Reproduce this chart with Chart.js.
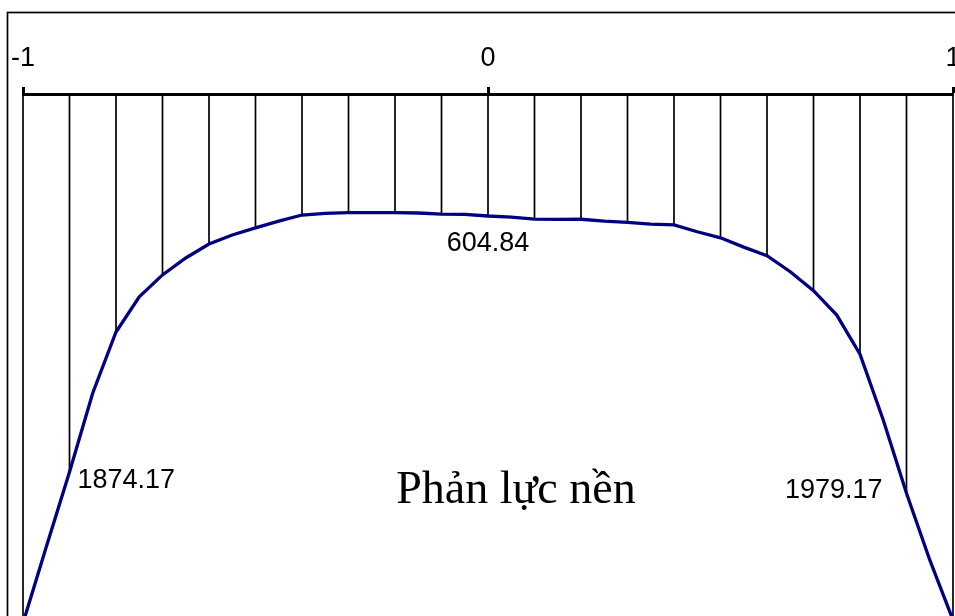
<!DOCTYPE html>
<html>
<head>
<meta charset="utf-8">
<script src="https://cdn.jsdelivr.net/npm/chart.js@4/dist/chart.umd.min.js"></script>
<style>
  html, body { margin: 0; padding: 0; background: #fff; }
  canvas { display: block; }
</style>
</head>
<body>
<canvas id="c" width="955" height="616"></canvas>
<script>
// Stations along the beam (relative coordinate, -1 .. 1)
const stations = [
  -1.00, -0.95, -0.90, -0.85, -0.80, -0.75, -0.70, -0.65, -0.60, -0.55, -0.50,
  -0.45, -0.40, -0.35, -0.30, -0.25, -0.20, -0.15, -0.10, -0.05, 0.00,
  0.05, 0.10, 0.15, 0.20, 0.25, 0.30, 0.35, 0.40, 0.45, 0.50,
  0.55, 0.60, 0.65, 0.70, 0.75, 0.80, 0.85, 0.90, 0.95, 1.00
];

// Subgrade reaction at each station
const reaction = [
  2623, 2246, 1874.17, 1482, 1180, 1006, 897, 813, 744, 699, 664,
  630, 600, 592, 588, 588, 588, 590, 596, 597, 604.84,
  610, 620, 622, 621, 630, 636, 645, 649, 683, 713,
  759, 802, 881, 975, 1096, 1290, 1616, 1979.17, 2310, 2608
];

// Axis ticks shown on the top axis
const tickValues = [-1, 0, 1];

// Stations whose values are written on the diagram
const labelledStations = [-0.9, 0, 0.9];

// Caption inside the diagram
const caption = 'Phản lực nền';

const points = stations.map((x, i) => ({ x: x, y: reaction[i] }));

// Ordinate lines every 0.1 from the axis down to the curve
const ordinatePlugin = {
  id: 'ordinates',
  beforeDatasetsDraw(chart) {
    const ctx = chart.ctx;
    const xs = chart.scales.x, ys = chart.scales.y;
    ctx.save();
    ctx.strokeStyle = '#000';
    ctx.lineWidth = 1.7;
    stations.forEach((s, i) => {
      if (i % 2 !== 0) return;
      const px = xs.getPixelForValue(s);
      ctx.beginPath();
      ctx.moveTo(px, ys.getPixelForValue(0));
      ctx.lineTo(px, ys.getPixelForValue(reaction[i]));
      ctx.stroke();
    });
    ctx.restore();
  }
};

// Frame, value labels and caption
const annotatePlugin = {
  id: 'annotate',
  afterDraw(chart) {
    const ctx = chart.ctx;
    const xs = chart.scales.x, ys = chart.scales.y;
    ctx.save();
    ctx.strokeStyle = '#000';
    ctx.lineWidth = 1.7;
    ctx.strokeRect(7.5, 12.5, 955, 700);

    ctx.fillStyle = '#000';
    ctx.font = '27px "Liberation Sans", Arial, sans-serif';
    ctx.textBaseline = 'middle';
    labelledStations.forEach((s) => {
      const i = stations.findIndex(v => Math.abs(v - s) < 1e-9);
      const val = reaction[i];
      const px = xs.getPixelForValue(s);
      const py = ys.getPixelForValue(val);
      const txt = val.toFixed(2);
      if (s < 0) {
        ctx.textAlign = 'left';
        ctx.fillText(txt, px + 8, py + 9);
      } else if (s > 0) {
        ctx.textAlign = 'right';
        ctx.fillText(txt, px - 24, py - 3);
      } else {
        ctx.textAlign = 'center';
        ctx.fillText(txt, px, py + 28);
      }
    });

    ctx.font = '46px "Liberation Serif", "Times New Roman", serif';
    ctx.textAlign = 'center';
    ctx.textBaseline = 'alphabetic';
    ctx.fillText(caption, xs.getPixelForValue(0.06), ys.getPixelForValue(2030));
    ctx.restore();
  }
};

new Chart(document.getElementById('c'), {
  type: 'line',
  data: {
    datasets: [{
      data: points,
      borderColor: '#000080',
      borderWidth: 3.3,
      pointRadius: 0,
      tension: 0,
      fill: false,
      clip: false
    }]
  },
  options: {
    responsive: false,
    animation: false,
    devicePixelRatio: 1,
    layout: { padding: { left: 23, right: 2, top: 0, bottom: 0 } },
    plugins: { legend: { display: false }, tooltip: { enabled: false } },
    scales: {
      x: {
        type: 'linear',
        position: 'top',
        min: -1,
        max: 1,
        afterBuildTicks(scale) {
          scale.ticks = tickValues.map(v => ({ value: v }));
        },
        afterFit(scale) {
          scale.paddingLeft = 0;
          scale.paddingRight = 0;
          scale.height = 94;
        },
        ticks: {
          autoSkip: false,
          maxRotation: 0,
          padding: 12,
          color: '#000',
          font: { family: '"Liberation Sans", Arial, sans-serif', size: 27 },
          callback: (v) => String(v)
        },
        grid: {
          display: true,
          drawOnChartArea: false,
          drawTicks: true,
          tickLength: 7,
          tickWidth: 3,
          tickColor: '#000'
        },
        border: { display: true, width: 3, color: '#000' }
      },
      y: {
        type: 'linear',
        display: false,
        reverse: true,
        min: 0,
        max: 2588
      }
    }
  },
  plugins: [ordinatePlugin, annotatePlugin]
});
</script>
</body>
</html>
